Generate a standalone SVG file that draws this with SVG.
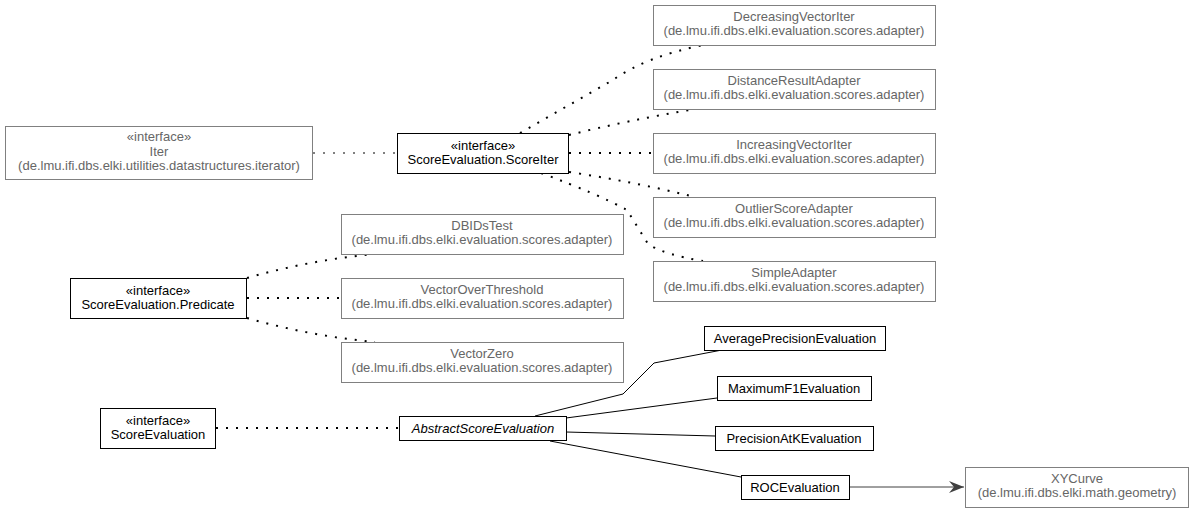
<svg xmlns="http://www.w3.org/2000/svg" width="1193" height="512" viewBox="0 0 1193 512">
<style>
text{font-family:"Liberation Sans",Arial,sans-serif;font-size:13px;text-anchor:middle}
.ext rect{fill:#fff;stroke:#808080;stroke-width:1}
.ext text{fill:#666}
.own rect{fill:#fff;stroke:#000;stroke-width:1}
.own text{fill:#000}
.it{font-style:italic}
.dot{fill:none;stroke:#000;stroke-width:2;stroke-dasharray:2,8}
.gdot{fill:none;stroke:#808080;stroke-width:2;stroke-dasharray:2,8}
.sol{fill:none;stroke:#000;stroke-width:1}
.arr{fill:none;stroke:#404040;stroke-width:1}
</style>
<defs>
<marker id="ah" markerWidth="16" markerHeight="12" refX="15" refY="6" orient="auto" markerUnits="userSpaceOnUse">
<path d="M0,0 L15,6 L0,12 L5,6 Z" fill="#404040"/>
</marker>
</defs>
<rect width="1193" height="512" fill="#fff"/>
<g id="connectors">
<path class="gdot" d="M313,153 L397,153"/>
<path class="dot" d="M520,133 L613,80 Q645,57 703,45"/>
<path class="dot" d="M569,135 Q625,121 695,109"/>
<path class="dot" d="M569,153 L653,153"/>
<path class="dot" d="M569,172 Q635,182 695,197"/>
<path class="dot" d="M541,173 Q600,195 627,210 L648,244 Q665,255 703,261"/>
<path class="dot" d="M247,278 Q310,260 375,254"/>
<path class="dot" d="M247,298 L341,298"/>
<path class="dot" d="M247,318 Q310,336 375,342"/>
<path class="dot" d="M216,428 L399,428"/>
<path class="sol" d="M535,416 L623,394 L654,363 L722,350"/>
<path class="sol" d="M566,418 L717,398"/>
<path class="sol" d="M566,432 L715,436"/>
<path class="sol" d="M550,441 L741,477"/>
<path class="arr" d="M849,487 L964,487" marker-end="url(#ah)"/>
</g>
<g id="Iter" class="ext"><rect x="5.5" y="126.5" width="307" height="53"/><text x="159" y="141">«interface»</text><text x="159" y="156">Iter</text><text x="159" y="170">(de.lmu.ifi.dbs.elki.utilities.datastructures.iterator)</text></g>
<g id="ScoreIter" class="own"><rect x="397.5" y="133.5" width="171" height="40"/><text x="483" y="150">«interface»</text><text x="483" y="164">ScoreEvaluation.ScoreIter</text></g>
<g id="DecreasingVectorIter" class="ext"><rect x="653.5" y="5.5" width="282" height="40"/><text x="794" y="21">DecreasingVectorIter</text><text x="794" y="35">(de.lmu.ifi.dbs.elki.evaluation.scores.adapter)</text></g>
<g id="DistanceResultAdapter" class="ext"><rect x="653.5" y="69.5" width="282" height="40"/><text x="794" y="85">DistanceResultAdapter</text><text x="794" y="99">(de.lmu.ifi.dbs.elki.evaluation.scores.adapter)</text></g>
<g id="IncreasingVectorIter" class="ext"><rect x="653.5" y="133.5" width="282" height="40"/><text x="794" y="149">IncreasingVectorIter</text><text x="794" y="163">(de.lmu.ifi.dbs.elki.evaluation.scores.adapter)</text></g>
<g id="OutlierScoreAdapter" class="ext"><rect x="653.5" y="197.5" width="282" height="40"/><text x="794" y="213">OutlierScoreAdapter</text><text x="794" y="227">(de.lmu.ifi.dbs.elki.evaluation.scores.adapter)</text></g>
<g id="SimpleAdapter" class="ext"><rect x="653.5" y="261.5" width="282" height="40"/><text x="794" y="277">SimpleAdapter</text><text x="794" y="291">(de.lmu.ifi.dbs.elki.evaluation.scores.adapter)</text></g>
<g id="DBIDsTest" class="ext"><rect x="341.5" y="214.5" width="282" height="40"/><text x="482" y="230">DBIDsTest</text><text x="482" y="244">(de.lmu.ifi.dbs.elki.evaluation.scores.adapter)</text></g>
<g id="VectorOverThreshold" class="ext"><rect x="341.5" y="278.5" width="282" height="40"/><text x="482" y="294">VectorOverThreshold</text><text x="482" y="308">(de.lmu.ifi.dbs.elki.evaluation.scores.adapter)</text></g>
<g id="VectorZero" class="ext"><rect x="341.5" y="342.5" width="282" height="40"/><text x="482" y="358">VectorZero</text><text x="482" y="372">(de.lmu.ifi.dbs.elki.evaluation.scores.adapter)</text></g>
<g id="Predicate" class="own"><rect x="70.5" y="278.5" width="176" height="40"/><text x="158" y="295">«interface»</text><text x="158" y="309">ScoreEvaluation.Predicate</text></g>
<g id="ScoreEvaluation" class="own"><rect x="100.5" y="408.5" width="115" height="40"/><text x="158" y="425">«interface»</text><text x="158" y="439">ScoreEvaluation</text></g>
<g id="AbstractScoreEvaluation" class="own"><rect x="399.5" y="416.5" width="167" height="24"/><text class="it" x="483" y="433">AbstractScoreEvaluation</text></g>
<g id="AveragePrecisionEvaluation" class="own"><rect x="704.5" y="326.5" width="181" height="24"/><text x="795" y="343">AveragePrecisionEvaluation</text></g>
<g id="MaximumF1Evaluation" class="own"><rect x="717.5" y="376.5" width="154" height="24"/><text x="794" y="393">MaximumF1Evaluation</text></g>
<g id="PrecisionAtKEvaluation" class="own"><rect x="715.5" y="426.5" width="158" height="24"/><text x="794" y="443">PrecisionAtKEvaluation</text></g>
<g id="ROCEvaluation" class="own"><rect x="741.5" y="475.5" width="108" height="24"/><text x="795" y="492">ROCEvaluation</text></g>
<g id="XYCurve" class="ext"><rect x="965.5" y="467.5" width="223" height="40"/><text x="1077" y="483">XYCurve</text><text x="1077" y="497">(de.lmu.ifi.dbs.elki.math.geometry)</text></g>
</svg>
